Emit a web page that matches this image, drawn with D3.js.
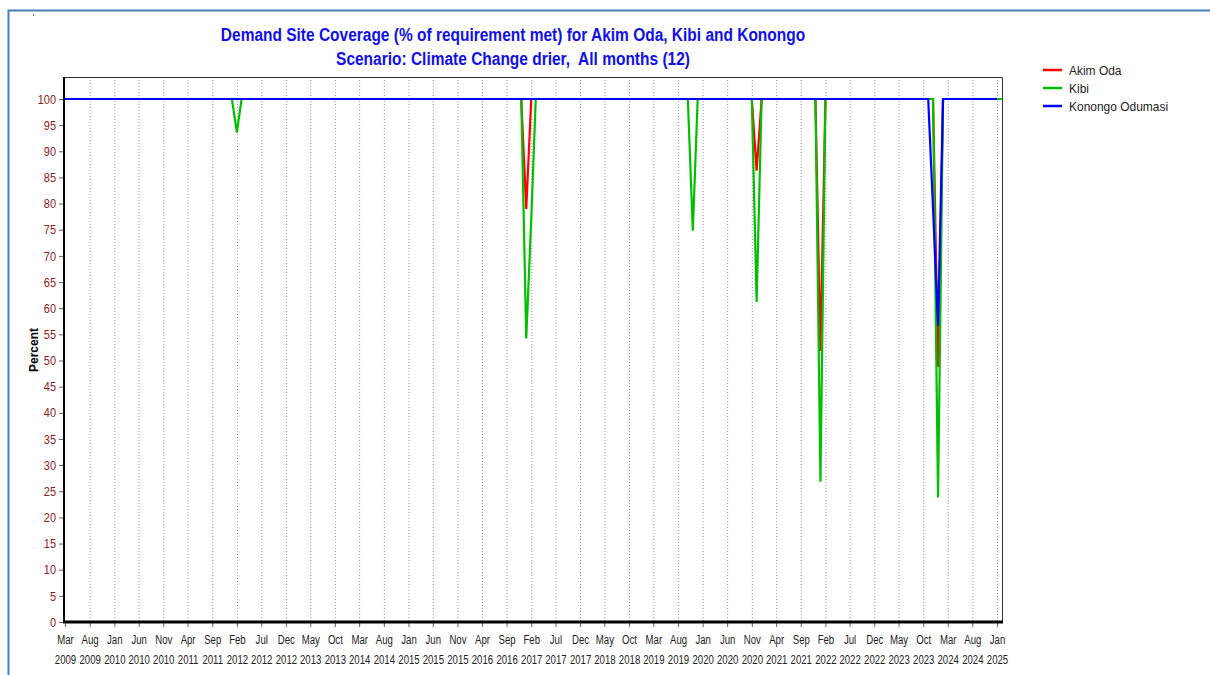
<html lang="en">
<head>
  <meta charset="UTF-8"/>
  <title>Demand Site Coverage</title>
  <script src="https://d3js.org/d3.v7.min.js"></script>
  <style>
    body { margin: 0; background: #fff; }
    text { font-family: "Liberation Sans", Arial, sans-serif; }
  </style>
</head>
<body>
<svg id="chart" width="1210" height="675"></svg>
<script>
// months shown: Mar 2009 .. Feb 2025 (monthly steps)
const firstMonth = "2009-03";
const lastMonth = "2025-02";

// tick labels every 5 months
const tickMonths = ["2009-03","2009-08","2010-01","2010-06","2010-11","2011-04","2011-09","2012-02","2012-07","2012-12",
  "2013-05","2013-10","2014-03","2014-08","2015-01","2015-06","2015-11","2016-04","2016-09","2017-02",
  "2017-07","2017-12","2018-05","2018-10","2019-03","2019-08","2020-01","2020-06","2020-11","2021-04",
  "2021-09","2022-02","2022-07","2022-12","2023-05","2023-10","2024-03","2024-08","2025-01"];

const yTicks = [0,5,10,15,20,25,30,35,40,45,50,55,60,65,70,75,80,85,90,95,100];

// coverage is 100% in every month except the ones listed
const akimOdaDips = [["2017-01", 79], ["2020-12", 86.3], ["2022-01", 51.8], ["2024-01", 48.8]];
const kibiDips = [["2012-02", 93.6], ["2017-01", 54.2], ["2017-02", 77], ["2019-11", 74.8],
  ["2020-12", 61.2], ["2022-01", 26.8], ["2024-01", 23.8]];
const konongoDips = [["2023-12", 79], ["2024-01", 56.7]];
const konongoLast = "2025-01";

const seriesNames = ["Akim Oda", "Kibi", "Konongo Odumasi"];
const seriesColors = ["#FF0000", "#00C000", "#0000FF"];

const parse = d3.timeParse("%Y-%m");
const months = d3.timeMonth.range(parse(firstMonth), d3.timeMonth.offset(parse(lastMonth), 1));

function build(dips, last) {
  const m = new Map(dips.map(d => [+parse(d[0]), d[1]]));
  const end = last ? parse(last) : parse(lastMonth);
  return months.filter(d => d <= end).map(d => ({date: d, value: m.has(+d) ? m.get(+d) : 100}));
}
const series = [build(akimOdaDips), build(kibiDips), build(konongoDips, konongoLast)];

// squeeze text horizontally (the original uses a narrow font)
function condense(sel, f) {
  sel.each(function() {
    const w = this.getComputedTextLength();
    d3.select(this).attr("textLength", w * f).attr("lengthAdjust", "spacingAndGlyphs");
  });
}

const svg = d3.select("#chart");
const plotLeft = 65, plotRight = 1002, plotTop = 77, plotBottom = 622;

// outer frame
svg.append("path").attr("d", "M8.5,675 V10.5 H1210").attr("fill", "none")
  .attr("stroke", "#4A7EBB").attr("stroke-width", 2);
svg.append("rect").attr("x", 33).attr("y", 14).attr("width", 1).attr("height", 2).attr("fill", "#4A7EBB");

const x = d3.scaleTime().domain([parse(firstMonth), parse(lastMonth)]).range([plotLeft, plotRight]);
const y = d3.scaleLinear().domain([0, 100]).range([plotBottom, 99]);

// title
const title = svg.append("g").attr("font-size", 18).attr("font-weight", "bold").attr("fill", "#1010E8");
title.append("text").attr("x", 513).attr("y", 41).attr("text-anchor", "middle")
  .text("Demand Site Coverage (% of requirement met) for Akim Oda, Kibi and Konongo");
title.append("text").attr("x", 513).attr("y", 65).attr("text-anchor", "middle")
  .text("Scenario: Climate Change drier,  All months (12)").style("white-space", "pre");
condense(title.selectAll("text"), 0.86);

// vertical dotted grid
svg.append("g")
  .selectAll("line").data(tickMonths.slice(1)).join("line")
  .attr("x1", d => x(parse(d)) + 0.5).attr("x2", d => x(parse(d)) + 0.5)
  .attr("y1", plotTop).attr("y2", plotBottom)
  .attr("stroke", "#9a9a9a").attr("stroke-width", 1).attr("stroke-dasharray", "1,2");

// plot box (top/right)
svg.append("path").attr("d", `M${plotLeft},${plotTop + 0.5} H${plotRight + 0.5} V${plotBottom}`)
  .attr("fill", "none").attr("stroke", "#333").attr("stroke-width", 1);

// y axis
const yAxis = svg.append("g").attr("transform", `translate(${plotLeft - 1},0)`)
  .call(d3.axisLeft(y).tickValues(yTicks).tickSize(5).tickPadding(3));
yAxis.select(".domain").remove();
yAxis.selectAll("line").attr("stroke", "#666");
yAxis.selectAll("text").attr("fill", "#8B1A1A").attr("font-size", 13)
  .style("font-family", "'Liberation Sans', sans-serif");
condense(yAxis.selectAll("text"), 0.84);

// x axis
const xAxis = svg.append("g").attr("transform", `translate(0,${plotBottom})`)
  .call(d3.axisBottom(x).tickValues(tickMonths.map(parse)).tickSize(5).tickFormat(""));
xAxis.select(".domain").remove();
xAxis.selectAll("line").attr("stroke", "#666");
xAxis.selectAll(".tick").each(function(d) {
  const g = d3.select(this).attr("fill", "#222").attr("font-size", 12).attr("text-anchor", "middle");
  g.append("text").attr("x", 0).attr("y", 22).attr("fill", "#222").text(d3.timeFormat("%b")(d));
  g.append("text").attr("x", 0).attr("y", 42).attr("fill", "#222").text(d3.timeFormat("%Y")(d));
});
condense(xAxis.selectAll("text"), 0.8);

// axis lines (thick)
svg.append("line").attr("x1", plotLeft - 1).attr("x2", plotLeft - 1).attr("y1", plotTop).attr("y2", plotBottom + 1)
  .attr("stroke", "#000").attr("stroke-width", 2);
svg.append("line").attr("x1", plotLeft - 2).attr("x2", plotRight + 1).attr("y1", plotBottom).attr("y2", plotBottom)
  .attr("stroke", "#000").attr("stroke-width", 3);

// y label
svg.append("text").attr("transform", "translate(38,350) rotate(-90)").attr("text-anchor", "middle")
  .attr("font-size", 12).attr("font-weight", "bold").attr("fill", "#000")
  .text("Percent");

// lines
const line = d3.line().x(d => x(d.date)).y(d => y(d.value));
svg.append("g").selectAll("path").data(series).join("path")
  .attr("d", line).attr("fill", "none")
  .attr("stroke", (d, i) => seriesColors[i]).attr("stroke-width", 2.2)
  .attr("stroke-linejoin", "miter");

// legend
const legend = svg.append("g").selectAll("g").data(seriesNames).join("g")
  .attr("transform", (d, i) => `translate(1043,${70 + i * 18})`);
legend.append("line").attr("x1", 0).attr("x2", 19).attr("stroke", (d, i) => seriesColors[i]).attr("stroke-width", 2.5);
legend.append("text").attr("x", 26).attr("y", 4.5).attr("font-size", 13).attr("fill", "#222").text(d => d);
condense(legend.selectAll("text"), 0.92);
</script>
</body>
</html>
